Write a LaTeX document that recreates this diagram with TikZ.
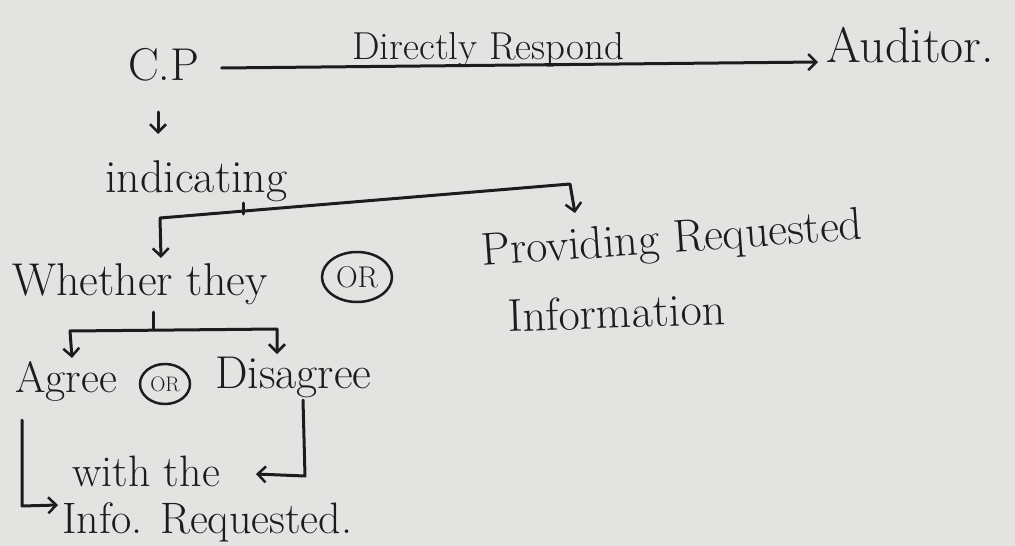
\documentclass[tikz,border=0pt]{standalone}
\usetikzlibrary{arrows.meta,shapes.geometric}
\definecolor{paper}{HTML}{E3E4E2}
\definecolor{ink}{HTML}{1C1C1C}
\tikzset{
  txt/.style={text=ink,inner sep=0pt,anchor=base west,font=\fontsize{46}{50}\selectfont},
  conn/.style={draw=ink,line width=3pt,line cap=round,line join=round},
  tip/.style={-{Straight Barb[length=8pt,width=16pt,line width=2.5pt]}},
  tips/.style={{Straight Barb[length=8pt,width=16pt,line width=2.5pt]}-{Straight Barb[length=8pt,width=16pt,line width=2.5pt]}},
  orcirc/.style={ellipse,draw=ink,line width=2.5pt,text=ink,inner sep=1pt}
}
\begin{document}
\begin{tikzpicture}[x=1pt,y=-1pt]
\fill[paper] (0,0) rectangle (1015,546);
\useasboundingbox (0,0) rectangle (1015,546);

% texts
\node[txt] (cp) at (128,80) {C.P};
\node[txt,font=\fontsize{50}{54}\selectfont] (aud) at (826,62) {Auditor.};
\node[txt,font=\fontsize{39}{42}\selectfont] (dr) at (352,59) {Directly Respond};
\node[txt] (ind) at (105,192) {indicating};
\node[txt] (wt) at (12,295) {Whether they};
\node[orcirc,font=\fontsize{30}{32}\selectfont,minimum width=70pt,minimum height=50pt] (or1) at (357,277) {OR};
\node[txt,rotate=4] (prov1) at (482,266) {Providing Requested};
\node[txt,rotate=2] (prov2) at (508,332) {Information};
\node[txt,font=\fontsize{44}{48}\selectfont] (agr) at (15,392) {Agree};
\node[orcirc,font=\fontsize{21}{23}\selectfont,minimum width=50pt,minimum height=40pt] (or2) at (165,384) {OR};
\node[txt] (dis) at (215,388) {Disagree};
\node[txt,font=\fontsize{44}{48}\selectfont] (with) at (72,486) {with the};
\node[txt,font=\fontsize{44}{48}\selectfont] (info) at (62,533) {Info. Requested.};

% C.P -> Auditor
\draw[conn,tip] ([xshift=22pt,yshift=12pt]cp.base east) -- ([xshift=-8pt]aud.base west);
% C.P down to indicating
\coordinate (c1) at (158,112);
\coordinate (c2) at (158,134);
\draw[conn,tip] (c1) -- (c2);

% indicating fork
\coordinate (kT) at (243,203);
\coordinate (kM) at (243,214);
\coordinate (kL) at (160,218);
\coordinate (kR) at (570,184);
\coordinate (kLe) at (161,258);
\coordinate (kRe) at (575,213);
\draw[conn] (kT) -- (kM);
\draw[conn,tips] (kLe) -- (kL) -- (kR) -- (kRe);

% whether fork
\coordinate (wT) at (153,312);
\coordinate (wM) at (153,329);
\coordinate (wL) at (70,331);
\coordinate (wR) at (277,329);
\coordinate (wLe) at (72,358);
\coordinate (wRe) at (277,354);
\draw[conn] (wT) -- (wM);
\draw[conn,tips] (wLe) -- (wL) -- (wR) -- (wRe);

% disagree hook
\coordinate (d1) at (303,400);
\coordinate (d2) at (305,476);
\coordinate (d3) at (256,474);
\draw[conn,tip] (d1) -- (d2) -- (d3);

% agree hook
\coordinate (a1) at (22,420);
\coordinate (a2) at (22,506);
\coordinate (a3) at (58,505);
\draw[conn,tip] (a1) -- (a2) -- (a3);
\end{tikzpicture}
\end{document}
